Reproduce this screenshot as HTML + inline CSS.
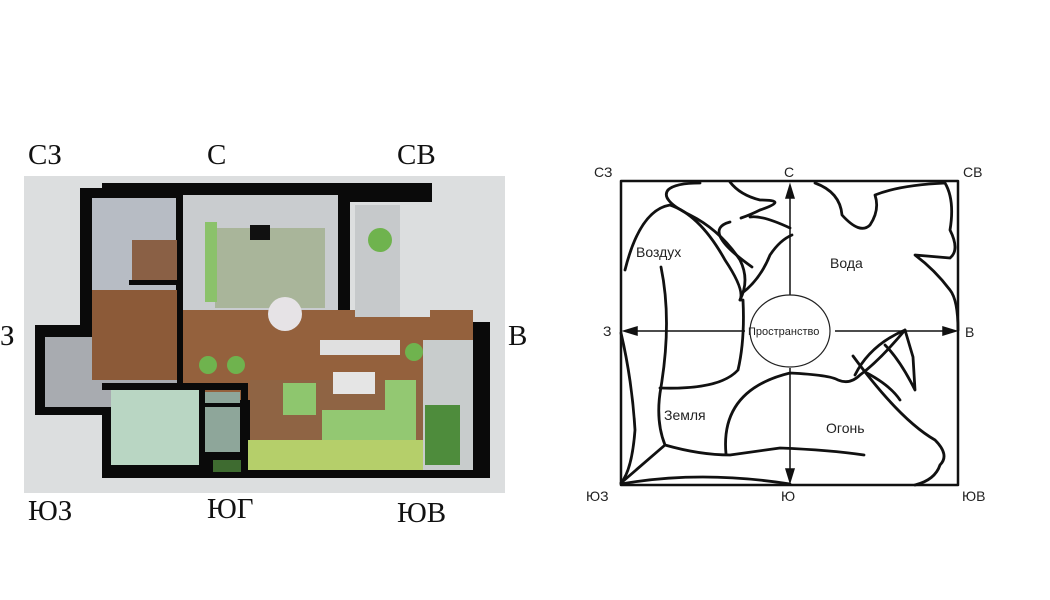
<!DOCTYPE html>
<html><head><meta charset="utf-8"><style>
html,body{margin:0;padding:0;background:#fff;width:1050px;height:600px;overflow:hidden}
svg{display:block}
</style></head><body>
<svg width="1050" height="600" viewBox="0 0 1050 600" xmlns="http://www.w3.org/2000/svg">
<rect x="24" y="176" width="481" height="317" fill="#dcdedf"/>
<g font-family="Liberation Serif, serif" font-size="29" fill="#111">
<text x="28" y="164">СЗ</text><text x="207" y="164">С</text><text x="397" y="164">СВ</text>
<text x="0" y="345">З</text><text x="508" y="345">В</text>
<text x="28" y="520">ЮЗ</text><text x="207" y="518">ЮГ</text><text x="397" y="522">ЮВ</text>
</g>
<path d="M102 183 H432 V202 H350 V322 H490 V478 H102 V415 H35 V325 H80 V188 H102 Z" fill="#0a0a0a"/>
<rect x="92" y="198" width="84" height="128" fill="#b7bcc4"/>
<rect x="132" y="240" width="45" height="45" fill="#8a6045"/>
<rect x="45" y="337" width="135" height="70" fill="#a8abb0"/>
<rect x="92" y="290" width="86" height="90" fill="#8c5a38"/>
<rect x="183" y="195" width="155" height="120" fill="#c9cccf"/>
<rect x="215" y="228" width="110" height="80" fill="#a9b59a"/>
<rect x="205" y="222" width="12" height="80" fill="#8bc26a"/>
<rect x="183" y="310" width="290" height="90" fill="#94613d"/>
<rect x="250" y="380" width="220" height="90" fill="#8f6444"/>
<rect x="247" y="440" width="222" height="30" fill="#b5cf6a"/>
<rect x="355" y="205" width="45" height="112" fill="#c6c9cb"/>
<rect x="400" y="205" width="30" height="112" fill="#dcdedf"/>
<rect x="423" y="340" width="50" height="130" fill="#c8cccc"/>
<rect x="425" y="405" width="35" height="60" fill="#4e8c3c"/>
<rect x="111" y="390" width="88" height="75" fill="#b9d6c3"/>
<rect x="205" y="392" width="35" height="60" fill="#8ea69a"/>
<rect x="213" y="460" width="28" height="12" fill="#3e6b30"/>
<rect x="283" y="383" width="33" height="32" fill="#8ec66e"/>
<path d="M322 410 H385 V380 H416 V440 H322 Z" fill="#93c872"/>
<rect x="333" y="372" width="42" height="22" fill="#e5e5e5"/>
<rect x="320" y="340" width="80" height="15" fill="#e0e0e0"/>
<circle cx="285" cy="314" r="17" fill="#e6e3e6"/>
<circle cx="208" cy="365" r="9" fill="#6fb34e"/><circle cx="236" cy="365" r="9" fill="#6fb34e"/>
<circle cx="380" cy="240" r="12" fill="#6fb34e"/><circle cx="414" cy="352" r="9" fill="#6fb34e"/>
<rect x="250" y="225" width="20" height="15" fill="#111"/>
<!-- interior walls -->
<g fill="#0a0a0a">
<rect x="177" y="195" width="6" height="190"/>
<rect x="129" y="280" width="50" height="5"/>
<rect x="102" y="383" width="145" height="7"/>
<rect x="241" y="383" width="7" height="90"/>
<rect x="199" y="390" width="6" height="20"/>
<rect x="205" y="403" width="36" height="4"/>
<rect x="205" y="452" width="36" height="6"/>
</g>
<g fill="none" stroke="#111" stroke-width="2.8" stroke-linejoin="round" stroke-linecap="round">
<rect x="621" y="181" width="337" height="304" stroke-width="2.5"/>
<path d="M625 270 Q640 210 670 205 Q700 215 725 260 Q745 290 740 300 M752 267 Q700 230 730 222 M741 294 Q760 280 770 255 Q780 240 792 235"/>
<path d="M668 190 Q660 200 690 215 Q720 230 740 260 Q750 280 740 300 L743 300 Q745 340 738 370 Q720 390 660 388"/>
<path d="M661 267 Q672 320 661 387 Q655 420 665 445 L621 483"/>
<path d="M621 333 Q632 380 635 430 Q632 470 621 483"/>
<path d="M665 445 Q700 455 730 455 L780 448 Q830 450 864 455"/>
<path d="M726 454 Q720 390 790 373 Q830 375 838 380 Q850 385 860 375 Q880 360 905 330"/>
<path d="M621 484 Q700 470 790 484"/>
<path d="M668 190 Q675 183 700 183 M730 182 Q740 195 760 200 Q790 200 760 210 Q750 215 741 218 M750 217 Q762 215 790 228 M815 183 Q840 192 842 215 Q860 235 870 225 Q880 210 875 195 Q900 185 945 183 Q955 200 950 230 Q960 250 950 258 L915 255 Q935 270 950 290 Q958 300 958 330"/>
<path d="M885 345 Q900 360 915 390 L913 357 L905 330 Q870 345 855 375"/>
<path d="M853 356 Q900 420 935 440 Q950 455 940 465 Q935 480 915 485"/>
<path d="M865 372 Q890 385 900 400"/>
</g>
<g stroke="#111" stroke-width="1.5" fill="#111">
<line x1="790" y1="195" x2="790" y2="295"/><path d="M790 185 L786 198 L794 198 Z"/>
<line x1="790" y1="368" x2="790" y2="472"/><path d="M790 482 L786 469 L794 469 Z"/>
<line x1="635" y1="331" x2="745" y2="331"/><path d="M624 331 L637 327 L637 335 Z"/>
<line x1="835" y1="331" x2="945" y2="331"/><path d="M956 331 L943 327 L943 335 Z"/>
</g>
<ellipse cx="790" cy="331" rx="40" ry="36" fill="none" stroke="#222" stroke-width="1.2"/>
<g font-family="Liberation Sans, sans-serif" fill="#222">
<text x="748" y="335" font-size="11">Пространство</text>
<text x="636" y="257" font-size="14">Воздух</text>
<text x="830" y="268" font-size="14">Вода</text>
<text x="664" y="420" font-size="14">Земля</text>
<text x="826" y="433" font-size="14">Огонь</text>
<g font-size="14">
<text x="594" y="177">СЗ</text><text x="784" y="177">С</text><text x="963" y="177">СВ</text>
<text x="603" y="336">З</text><text x="965" y="337">В</text>
<text x="586" y="501">ЮЗ</text><text x="781" y="501">Ю</text><text x="962" y="501">ЮВ</text>
</g></g>
</svg>
</body></html>
